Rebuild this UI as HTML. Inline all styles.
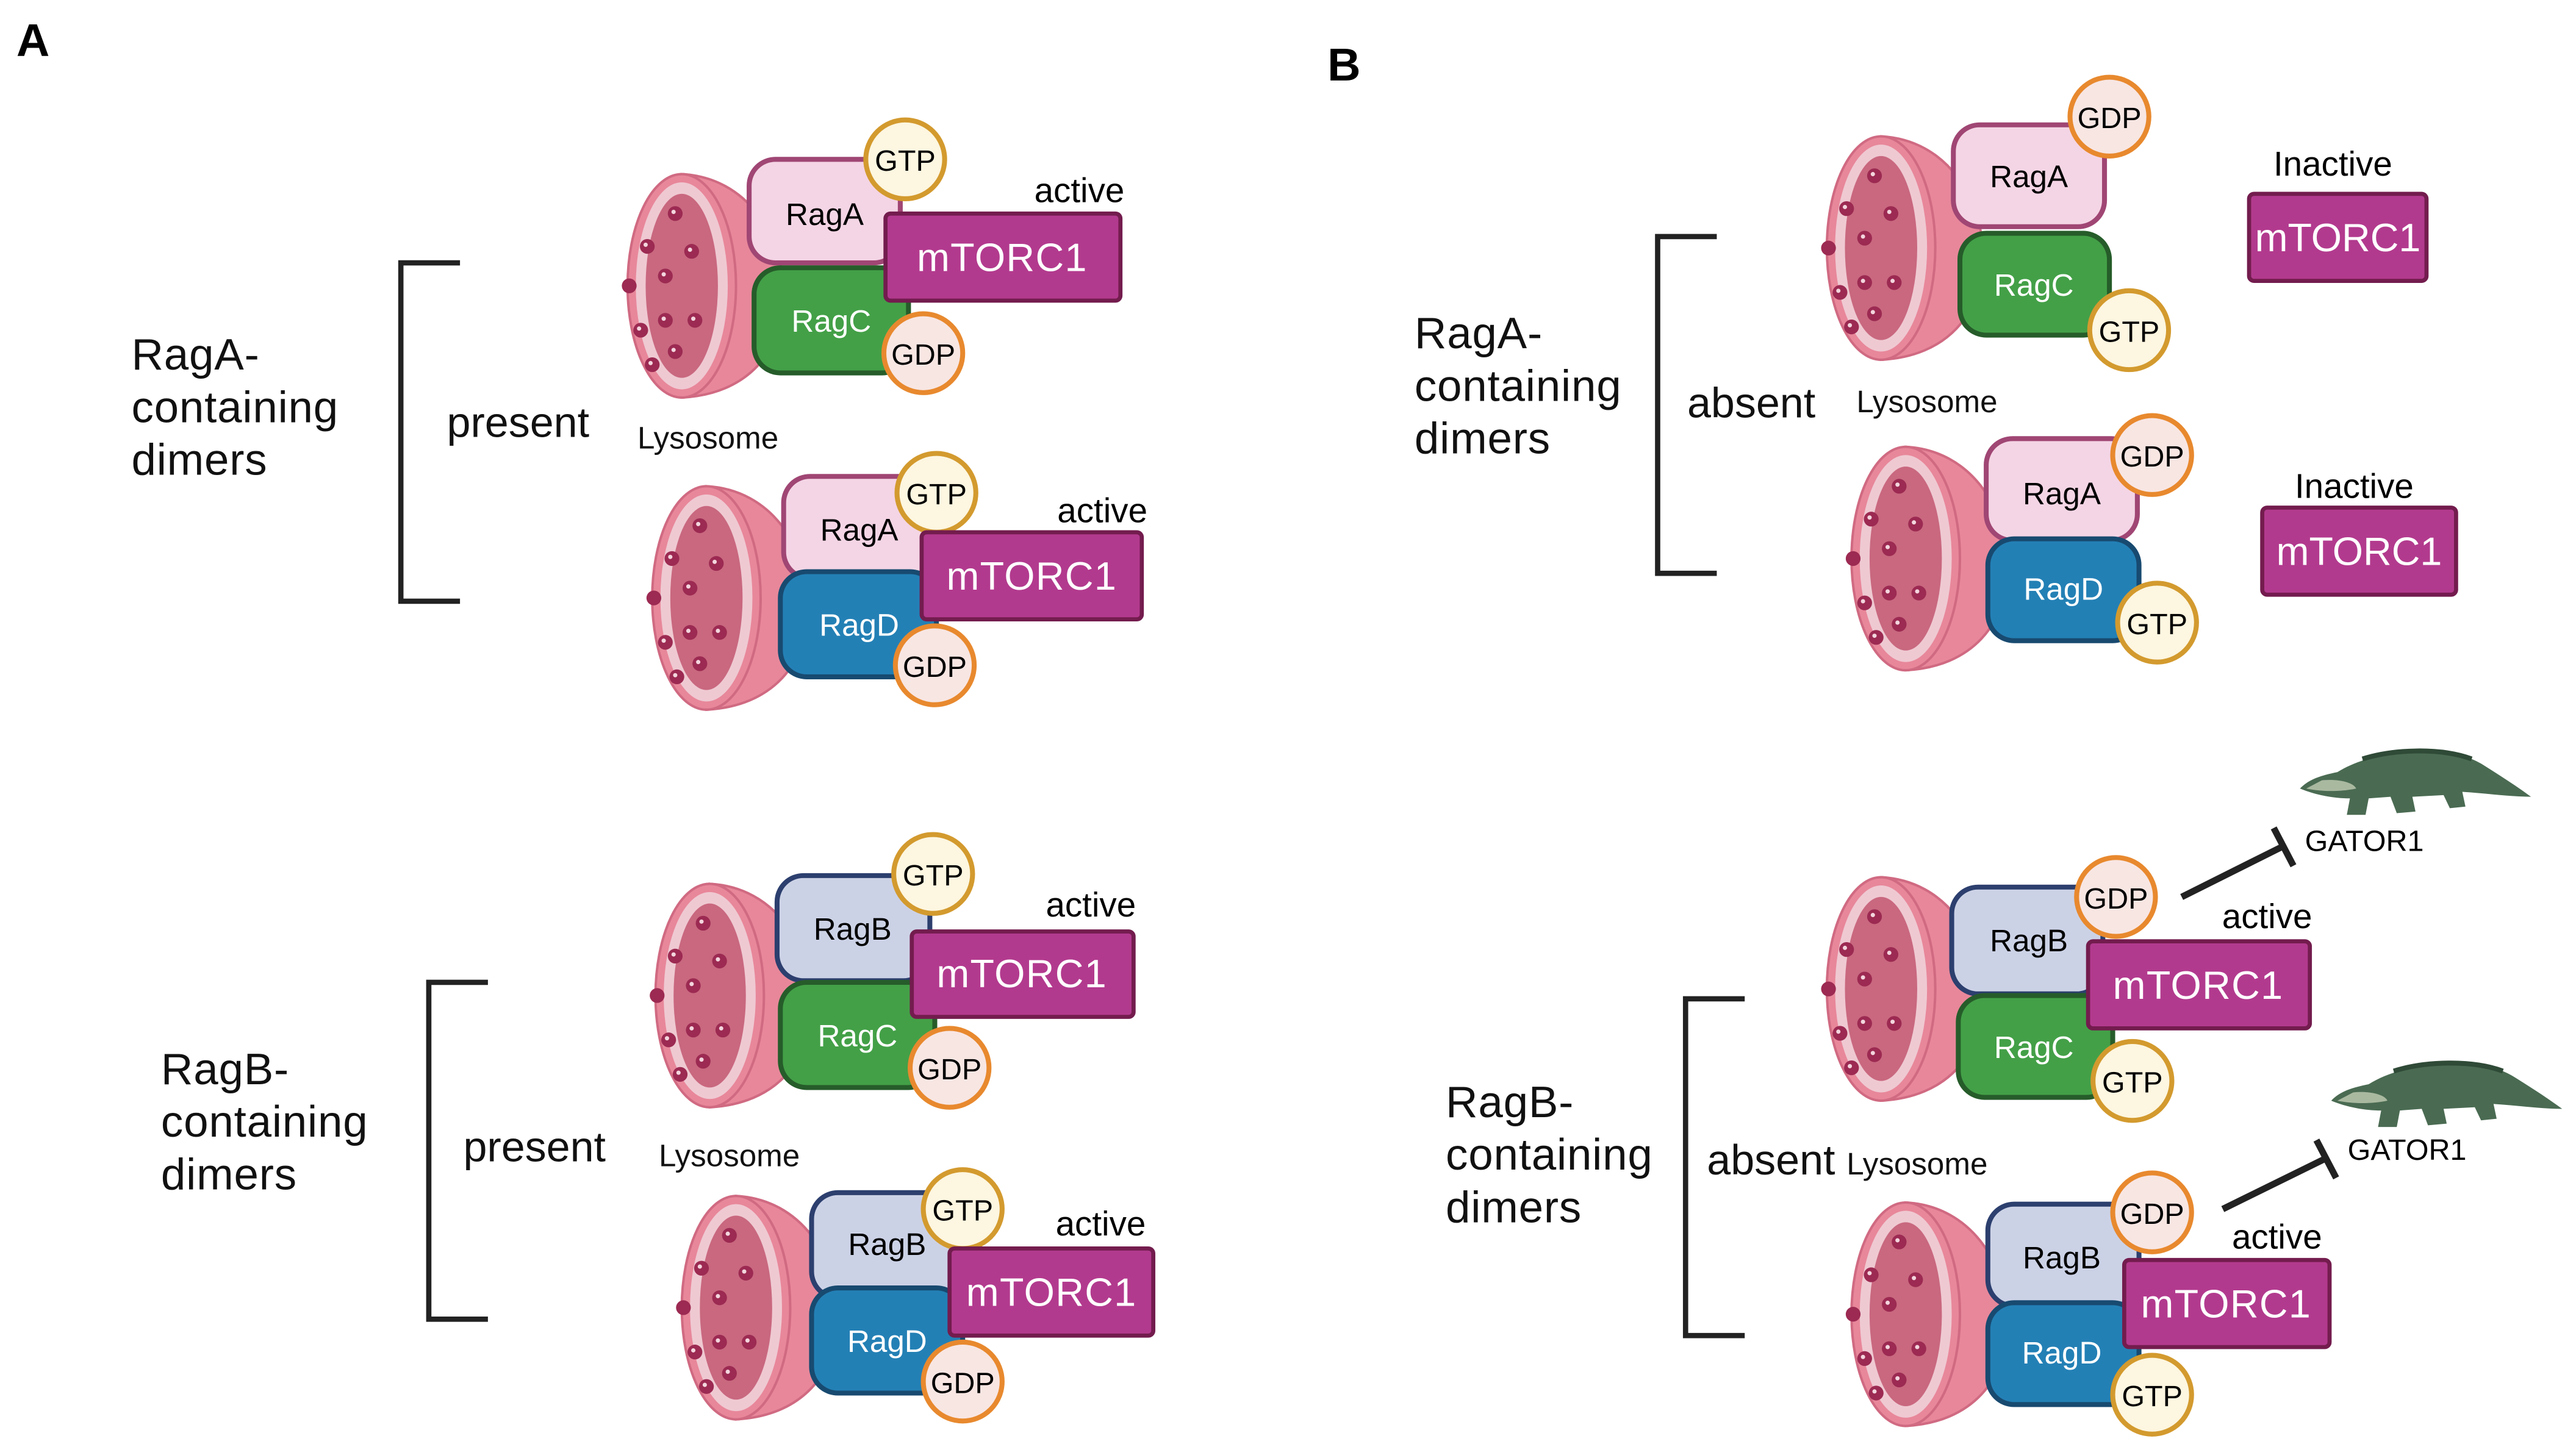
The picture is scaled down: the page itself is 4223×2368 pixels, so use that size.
<!DOCTYPE html>
<html><head><meta charset="utf-8"><style>
html,body{margin:0;padding:0;background:#fff}
svg{display:block}
text{font-family:"Liberation Sans",sans-serif}
</style></head><body>
<svg width="4223" height="2368" viewBox="0 0 1568 879" preserveAspectRatio="none" xmlns="http://www.w3.org/2000/svg">
<defs>
<g id="lyso">
<path d="M0,-68 C40,-66 62,-30 62,5 C62,40 40,66 0,68 Z" fill="#e8879a" stroke="#d06a82" stroke-width="1.5"/>
<ellipse cx="0" cy="0" rx="33" ry="68" fill="#e8879a" stroke="#d06a82" stroke-width="1.5"/>
<ellipse cx="0" cy="0" rx="28" ry="63" fill="#efc9d2"/>
<ellipse cx="0" cy="0" rx="22" ry="56" fill="#c9687f"/>
<g fill="#9c2a52">
<circle cx="-4" cy="-44" r="4.5"/><circle cx="-21" cy="-24" r="4.5"/><circle cx="6" cy="-21" r="4.5"/>
<circle cx="-10" cy="-6" r="4.5"/><circle cx="-32" cy="0" r="4.5"/><circle cx="-10" cy="21" r="4.5"/>
<circle cx="8" cy="21" r="4.5"/><circle cx="-25" cy="27" r="4.5"/><circle cx="-4" cy="40" r="4.5"/>
<circle cx="-18" cy="48" r="4.5"/>
</g>
<g fill="#f3d6de">
<circle cx="-5" cy="-45" r="1.3"/><circle cx="-22" cy="-25" r="1.3"/><circle cx="5" cy="-22" r="1.3"/>
<circle cx="-11" cy="-7" r="1.3"/><circle cx="-11" cy="20" r="1.3"/><circle cx="7" cy="20" r="1.3"/>
<circle cx="-26" cy="26" r="1.3"/><circle cx="-5" cy="39" r="1.3"/><circle cx="-19" cy="47" r="1.3"/>
</g>
</g>
<g id="gator">
<path d="M0,22 C6,16 14,14 24,12 C34,6 48,2 62,0 C85,-3 105,0 118,8 C128,14 138,20 148,27 C135,27 120,25 104,24 L106,33 L96,34 L92,26 L72,27 L74,36 L62,37 L58,27 L44,28 L42,38 L30,38 L32,28 C22,28 10,26 0,22 Z" fill="#4a6b52"/>
<path d="M4,22 C14,24 26,24 36,22 C34,18 24,16 14,17 Z" fill="#a9b9a0"/>
<path d="M40,4 C60,-2 90,-3 110,4" stroke="#2f4a37" stroke-width="3" fill="none"/>
</g>
</defs>

<text x="10" y="34" font-size="28" font-weight="bold">A</text>
<text x="808" y="49" font-size="28" font-weight="bold">B</text>

<g stroke="#222" stroke-width="3.2" fill="none">
<path d="M280,160 H244 V366 H280"/>
<path d="M297,598 H261 V803 H297"/>
<path d="M1045,144 H1009 V349 H1045"/>
<path d="M1062,608 H1026 V813 H1062"/>
</g>

<g font-size="27" fill="#111" letter-spacing="0.3">
<text x="80" y="225">RagA-</text><text x="80" y="257">containing</text><text x="80" y="289">dimers</text>
<text x="98" y="660">RagB-</text><text x="98" y="692">containing</text><text x="98" y="724">dimers</text>
<text x="861" y="212">RagA-</text><text x="861" y="244">containing</text><text x="861" y="276">dimers</text>
<text x="880" y="680">RagB-</text><text x="880" y="712">containing</text><text x="880" y="744">dimers</text>
</g>
<g font-size="26" fill="#111">
<text x="272" y="266">present</text>
<text x="282" y="707">present</text>
<text x="1027" y="254">absent</text>
<text x="1039" y="715">absent</text>
</g>
<g font-size="19" fill="#111">
<text x="388" y="273">Lysosome</text>
<text x="401" y="710">Lysosome</text>
<text x="1130" y="251">Lysosome</text>
<text x="1124" y="715">Lysosome</text>
</g>

<g transform="translate(415,174)">
<use href="#lyso"/>
<rect x="41" y="-77" width="92" height="63" rx="16" fill="#f4d5e5" stroke="#a04674" stroke-width="3"/>
<rect x="44" y="-11" width="94" height="64" rx="16" fill="#43a047" stroke="#265c2a" stroke-width="3"/>
<circle cx="136" cy="-77" r="24" fill="#fdf6e0" stroke="#d39a2e" stroke-width="3"/>
<circle cx="147" cy="41" r="24" fill="#f8e6e3" stroke="#e8892e" stroke-width="3"/>
<rect x="124" y="-44" width="143" height="53" rx="3" fill="#b23a8e" stroke="#731c4e" stroke-width="2.5"/>
<text x="87" y="-37" font-size="19" text-anchor="middle">RagA</text>
<text x="91" y="28" font-size="19" text-anchor="middle" fill="#fff">RagC</text>
<text x="136" y="-70" font-size="18" text-anchor="middle">GTP</text>
<text x="147" y="48" font-size="18" text-anchor="middle">GDP</text>
<text x="195" y="-9" font-size="24" text-anchor="middle" fill="#fff" letter-spacing="0.5">mTORC1</text>
<text x="242" y="-51" font-size="21" text-anchor="middle">active</text>
</g>
<g transform="translate(430,364)">
<use href="#lyso"/>
<rect x="47" y="-74" width="93" height="62" rx="16" fill="#f4d5e5" stroke="#a04674" stroke-width="3"/>
<rect x="45" y="-16" width="95" height="64" rx="16" fill="#2380b5" stroke="#184a70" stroke-width="3"/>
<circle cx="140" cy="-64" r="24" fill="#fdf6e0" stroke="#d39a2e" stroke-width="3"/>
<circle cx="139" cy="41" r="24" fill="#f8e6e3" stroke="#e8892e" stroke-width="3"/>
<rect x="131" y="-40" width="134" height="53" rx="3" fill="#b23a8e" stroke="#731c4e" stroke-width="2.5"/>
<text x="93" y="-35" font-size="19" text-anchor="middle">RagA</text>
<text x="93" y="23" font-size="19" text-anchor="middle" fill="#fff">RagD</text>
<text x="140" y="-57" font-size="18" text-anchor="middle">GTP</text>
<text x="139" y="48" font-size="18" text-anchor="middle">GDP</text>
<text x="198" y="-5" font-size="24" text-anchor="middle" fill="#fff" letter-spacing="0.5">mTORC1</text>
<text x="241" y="-46" font-size="21" text-anchor="middle">active</text>
</g>
<g transform="translate(432,606)">
<use href="#lyso"/>
<rect x="41" y="-73" width="93" height="64" rx="16" fill="#ccd2e6" stroke="#2c3f6e" stroke-width="3"/>
<rect x="43" y="-8" width="94" height="64" rx="16" fill="#43a047" stroke="#265c2a" stroke-width="3"/>
<circle cx="136" cy="-74" r="24" fill="#fdf6e0" stroke="#d39a2e" stroke-width="3"/>
<circle cx="146" cy="44" r="24" fill="#f8e6e3" stroke="#e8892e" stroke-width="3"/>
<rect x="123" y="-39" width="135" height="52" rx="3" fill="#b23a8e" stroke="#731c4e" stroke-width="2.5"/>
<text x="87" y="-34" font-size="19" text-anchor="middle">RagB</text>
<text x="90" y="31" font-size="19" text-anchor="middle" fill="#fff">RagC</text>
<text x="136" y="-67" font-size="18" text-anchor="middle">GTP</text>
<text x="146" y="51" font-size="18" text-anchor="middle">GDP</text>
<text x="190" y="-5" font-size="24" text-anchor="middle" fill="#fff" letter-spacing="0.5">mTORC1</text>
<text x="232" y="-48" font-size="21" text-anchor="middle">active</text>
</g>
<g transform="translate(448,796)">
<use href="#lyso"/>
<rect x="46" y="-70" width="92" height="64" rx="16" fill="#ccd2e6" stroke="#2c3f6e" stroke-width="3"/>
<rect x="46" y="-12" width="92" height="64" rx="16" fill="#2380b5" stroke="#184a70" stroke-width="3"/>
<circle cx="138" cy="-60" r="24" fill="#fdf6e0" stroke="#d39a2e" stroke-width="3"/>
<circle cx="138" cy="45" r="24" fill="#f8e6e3" stroke="#e8892e" stroke-width="3"/>
<rect x="130" y="-36" width="124" height="53" rx="3" fill="#b23a8e" stroke="#731c4e" stroke-width="2.5"/>
<text x="92" y="-32" font-size="19" text-anchor="middle">RagB</text>
<text x="92" y="27" font-size="19" text-anchor="middle" fill="#fff">RagD</text>
<text x="138" y="-53" font-size="18" text-anchor="middle">GTP</text>
<text x="138" y="52" font-size="18" text-anchor="middle">GDP</text>
<text x="192" y="-1" font-size="24" text-anchor="middle" fill="#fff" letter-spacing="0.5">mTORC1</text>
<text x="222" y="-44" font-size="21" text-anchor="middle">active</text>
</g>

<g transform="translate(1145,151)">
<use href="#lyso"/>
<rect x="44" y="-75" width="92" height="62" rx="16" fill="#f4d5e5" stroke="#a04674" stroke-width="3"/>
<rect x="48" y="-9" width="91" height="62" rx="16" fill="#43a047" stroke="#265c2a" stroke-width="3"/>
<circle cx="139" cy="-80" r="24" fill="#f8e6e3" stroke="#e8892e" stroke-width="3"/>
<circle cx="151" cy="50" r="24" fill="#fdf6e0" stroke="#d39a2e" stroke-width="3"/>
<text x="90" y="-37" font-size="19" text-anchor="middle">RagA</text>
<text x="93" y="29" font-size="19" text-anchor="middle" fill="#fff">RagC</text>
<text x="139" y="-73" font-size="18" text-anchor="middle">GDP</text>
<text x="151" y="57" font-size="18" text-anchor="middle">GTP</text>
</g>
<rect x="1369" y="118" width="108" height="53" rx="3" fill="#b23a8e" stroke="#731c4e" stroke-width="2.5"/>
<text x="1423" y="153" font-size="24" text-anchor="middle" fill="#fff">mTORC1</text>
<text x="1420" y="107" font-size="21" text-anchor="middle">Inactive</text>
<g transform="translate(1160,340)">
<use href="#lyso"/>
<rect x="49" y="-73" width="92" height="62" rx="16" fill="#f4d5e5" stroke="#a04674" stroke-width="3"/>
<rect x="50" y="-12" width="92" height="62" rx="16" fill="#2380b5" stroke="#184a70" stroke-width="3"/>
<circle cx="150" cy="-63" r="24" fill="#f8e6e3" stroke="#e8892e" stroke-width="3"/>
<circle cx="153" cy="39" r="24" fill="#fdf6e0" stroke="#d39a2e" stroke-width="3"/>
<text x="95" y="-33" font-size="19" text-anchor="middle">RagA</text>
<text x="96" y="25" font-size="19" text-anchor="middle" fill="#fff">RagD</text>
<text x="150" y="-56" font-size="18" text-anchor="middle">GDP</text>
<text x="153" y="46" font-size="18" text-anchor="middle">GTP</text>
</g>
<rect x="1377" y="309" width="118" height="53" rx="3" fill="#b23a8e" stroke="#731c4e" stroke-width="2.5"/>
<text x="1436" y="344" font-size="24" text-anchor="middle" fill="#fff">mTORC1</text>
<text x="1433" y="303" font-size="21" text-anchor="middle">Inactive</text>
<g transform="translate(1145,602)">
<use href="#lyso"/>
<rect x="43" y="-62" width="92" height="65" rx="16" fill="#ccd2e6" stroke="#2c3f6e" stroke-width="3"/>
<rect x="47" y="4" width="94" height="62" rx="16" fill="#43a047" stroke="#265c2a" stroke-width="3"/>
<circle cx="143" cy="-56" r="24" fill="#f8e6e3" stroke="#e8892e" stroke-width="3"/>
<circle cx="153" cy="56" r="24" fill="#fdf6e0" stroke="#d39a2e" stroke-width="3"/>
<rect x="126" y="-29" width="135" height="53" rx="3" fill="#b23a8e" stroke="#731c4e" stroke-width="2.5"/>
<text x="90" y="-23" font-size="19" text-anchor="middle">RagB</text>
<text x="93" y="42" font-size="19" text-anchor="middle" fill="#fff">RagC</text>
<text x="143" y="-49" font-size="18" text-anchor="middle">GDP</text>
<text x="153" y="63" font-size="18" text-anchor="middle">GTP</text>
<text x="193" y="6" font-size="24" text-anchor="middle" fill="#fff" letter-spacing="0.5">mTORC1</text>
<text x="235" y="-37" font-size="21" text-anchor="middle">active</text>
</g>
<g transform="translate(1160,800)">
<use href="#lyso"/>
<rect x="50" y="-67" width="92" height="62" rx="16" fill="#ccd2e6" stroke="#2c3f6e" stroke-width="3"/>
<rect x="50" y="-7" width="92" height="62" rx="16" fill="#2380b5" stroke="#184a70" stroke-width="3"/>
<circle cx="150" cy="-62" r="24" fill="#f8e6e3" stroke="#e8892e" stroke-width="3"/>
<circle cx="150" cy="49" r="24" fill="#fdf6e0" stroke="#d39a2e" stroke-width="3"/>
<rect x="133" y="-33" width="125" height="53" rx="3" fill="#b23a8e" stroke="#731c4e" stroke-width="2.5"/>
<text x="95" y="-28" font-size="19" text-anchor="middle">RagB</text>
<text x="95" y="30" font-size="19" text-anchor="middle" fill="#fff">RagD</text>
<text x="150" y="-55" font-size="18" text-anchor="middle">GDP</text>
<text x="150" y="56" font-size="18" text-anchor="middle">GTP</text>
<text x="195" y="2" font-size="24" text-anchor="middle" fill="#fff" letter-spacing="0.5">mTORC1</text>
<text x="226" y="-40" font-size="21" text-anchor="middle">active</text>
</g>

<g stroke="#222" stroke-width="4" fill="none">
<path d="M1328,546 L1390,515"/><path d="M1384,504 L1396,527"/>
<path d="M1353,736 L1416,705"/><path d="M1410,694 L1422,717"/>
</g>
<text x="1403" y="518" font-size="18">GATOR1</text>
<text x="1429" y="706" font-size="18">GATOR1</text>
<use href="#gator" transform="translate(1400,458) scale(0.95,1)"/>
<use href="#gator" transform="translate(1419,648) scale(0.95,1)"/>
</svg>
</body></html>
